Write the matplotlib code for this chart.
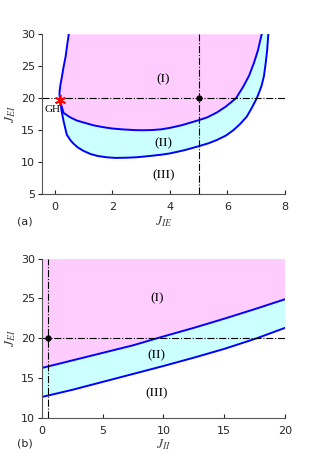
import numpy as np
import matplotlib
matplotlib.use('Agg')
from matplotlib import pyplot as plt

plt.rcParams['mathtext.fontset'] = 'stix'

# panel (a): boundaries in the (J_IE, J_EI) plane
left_x = [0.49, 0.44, 0.38, 0.31, 0.25, 0.20, 0.17, 0.17, 0.19]
left_y = [30.0, 28.5, 26.5, 24.9, 23.3, 22.1, 21.0, 20.4, 19.72]
inner_x = [0.19, 0.25, 0.31, 0.54, 0.77, 1.00, 1.35, 1.70, 2.00, 2.40, 2.80, 3.10, 3.40, 3.70, 4.00,
           4.40, 4.70, 5.00, 5.30, 5.63, 5.95, 6.30, 6.55, 6.75, 6.92, 7.06, 7.19]
inner_y = [19.72, 18.6, 17.7, 17.0, 16.5, 16.2, 15.75, 15.45, 15.25, 15.1, 15.0, 14.98, 15.02, 15.12, 15.35,
           15.75, 16.15, 16.55, 17.0, 17.75, 18.7, 20.0, 21.8, 23.5, 25.5, 27.5, 30.0]
outer_x = [0.19, 0.24, 0.31, 0.42, 0.55, 0.65, 0.80, 1.00, 1.25, 1.50, 1.80, 2.10, 2.50, 2.85, 3.30,
           3.70, 4.00, 4.50, 5.02, 5.35, 5.63, 5.95, 6.21, 6.45, 6.67, 6.85, 7.02, 7.11, 7.19,
           7.27, 7.33, 7.38, 7.42]
outer_y = [19.72, 18.0, 16.4, 14.3, 13.4, 12.9, 12.3, 11.75, 11.25, 10.95, 10.75, 10.65, 10.68, 10.75, 10.95,
           11.15, 11.35, 11.85, 12.5, 12.95, 13.45, 14.15, 15.0, 16.0, 17.1, 18.5, 20.0, 21.0, 22.0,
           23.5, 25.5, 27.5, 30.0]
gh_point = (0.19, 19.72)
dot_a = (5.0, 20.0)

# panel (b): boundaries in the (J_II, J_EI) plane
jii = [0.0, 2.5, 5.0, 7.5, 9.5, 12.5, 15.0, 17.5, 20.0]
upper_b = [16.25, 17.2, 18.15, 19.1, 20.0, 21.3, 22.45, 23.65, 24.9]
jii_low = [0.0, 2.5, 5.0, 7.5, 10.0, 12.5, 15.0, 17.7, 20.0]
lower_b = [12.6, 13.5, 14.5, 15.5, 16.5, 17.55, 18.65, 20.0, 21.3]
dot_b = (0.5, 20.0)

pink = '#FFCCFF'
cyan = '#CCFFFF'
tick_col = '#262626'


def style(ax):
	for s in ['top', 'right']:
		ax.spines[s].set_visible(False)
	for s in ['left', 'bottom']:
		ax.spines[s].set_color('#555555')
		ax.spines[s].set_linewidth(0.8)
	ax.tick_params(axis='x', direction='in', length=3, labelsize=8, colors=tick_col, pad=6)
	ax.tick_params(axis='y', direction='out', length=3, labelsize=8, colors=tick_col, pad=2)


fig = plt.figure(figsize=(3.16, 4.72), dpi=100)

# ---- (a) ----
ax1 = fig.add_axes([41.7 / 316, 1 - 194 / 472, (285 - 41.7) / 316, (194 - 34.3) / 472])
pink_x = list(left_x) + inner_x[1:] + [left_x[0]]
pink_y = list(left_y) + inner_y[1:] + [left_y[0]]
ax1.fill(pink_x, pink_y, color=pink, lw=0)
cyan_x = inner_x + outer_x[::-1]
cyan_y = inner_y + outer_y[::-1]
ax1.fill(cyan_x, cyan_y, color=cyan, lw=0)
ax1.plot(left_x, left_y, color='#0000FF', lw=1.4)
ax1.plot(inner_x, inner_y, color='#0000FF', lw=1.4)
ax1.plot(outer_x, outer_y, color='#0000FF', lw=1.4)
ax1.axhline(20, color='k', ls='-.', lw=0.8)
ax1.axvline(5, color='k', ls='-.', lw=0.8)
ax1.plot(*dot_a, 'o', color='k', ms=3.5)
ax1.plot(*gh_point, marker=(6, 2, 0), color='red', ms=8, mew=1.3)
ax1.text(-0.09, 18.2, 'GH', family='Liberation Serif', fontsize=8, ha='center', va='center')
ax1.text(3.78, 23.0, '(I)', family='Liberation Serif', fontsize=9.5, ha='center', va='center')
ax1.text(3.78, 12.9, '(II)', family='Liberation Serif', fontsize=9.5, ha='center', va='center')
ax1.text(3.78, 8.0, '(III)', family='Liberation Serif', fontsize=9.5, ha='center', va='center')
ax1.set_xlim(-0.45, 8)
ax1.set_ylim(5, 30)
ax1.set_xticks([0, 2, 4, 6, 8])
ax1.set_yticks([5, 10, 15, 20, 25, 30])
ax1.set_xlabel(r'$J_{IE}$', fontsize=10, color='#444444', labelpad=1)
ax1.set_ylabel(r'$J_{EI}$', fontsize=10, color='#444444', labelpad=2)
style(ax1)
fig.text(25 / 316, 1 - 221 / 472, '(a)', fontsize=8, ha='center', va='center', color=tick_col)

# ---- (b) ----
ax2 = fig.add_axes([41.7 / 316, 1 - 417.7 / 472, (285 - 41.7) / 316, (417.7 - 258.7) / 472])
band_x = jii + jii_low[::-1]
band_y = upper_b + lower_b[::-1]
ax2.fill(jii + [jii[-1], jii[0]], upper_b + [30, 30], color=pink, lw=0)
ax2.fill(band_x, band_y, color=cyan, lw=0)
ax2.plot(jii, upper_b, color='#0000FF', lw=1.4)
ax2.plot(jii_low, lower_b, color='#0000FF', lw=1.4)
ax2.axhline(20, color='k', ls='-.', lw=0.8)
ax2.axvline(0.5, color='k', ls='-.', lw=0.8)
ax2.plot(*dot_b, 'o', color='k', ms=3.5)
ax2.text(9.45, 25.0, '(I)', family='Liberation Serif', fontsize=9.5, ha='center', va='center')
ax2.text(9.45, 17.85, '(II)', family='Liberation Serif', fontsize=9.5, ha='center', va='center')
ax2.text(9.45, 13.1, '(III)', family='Liberation Serif', fontsize=9.5, ha='center', va='center')
ax2.set_xlim(0, 20)
ax2.set_ylim(10, 30)
ax2.set_xticks([0, 5, 10, 15, 20])
ax2.set_yticks([10, 15, 20, 25, 30])
ax2.set_xlabel(r'$J_{II}$', fontsize=10, color='#444444', labelpad=1)
ax2.set_ylabel(r'$J_{EI}$', fontsize=10, color='#444444', labelpad=2)
style(ax2)
fig.text(25 / 316, 1 - 444 / 472, '(b)', fontsize=8, ha='center', va='center', color=tick_col)

fig.savefig('out.png', dpi=100)
